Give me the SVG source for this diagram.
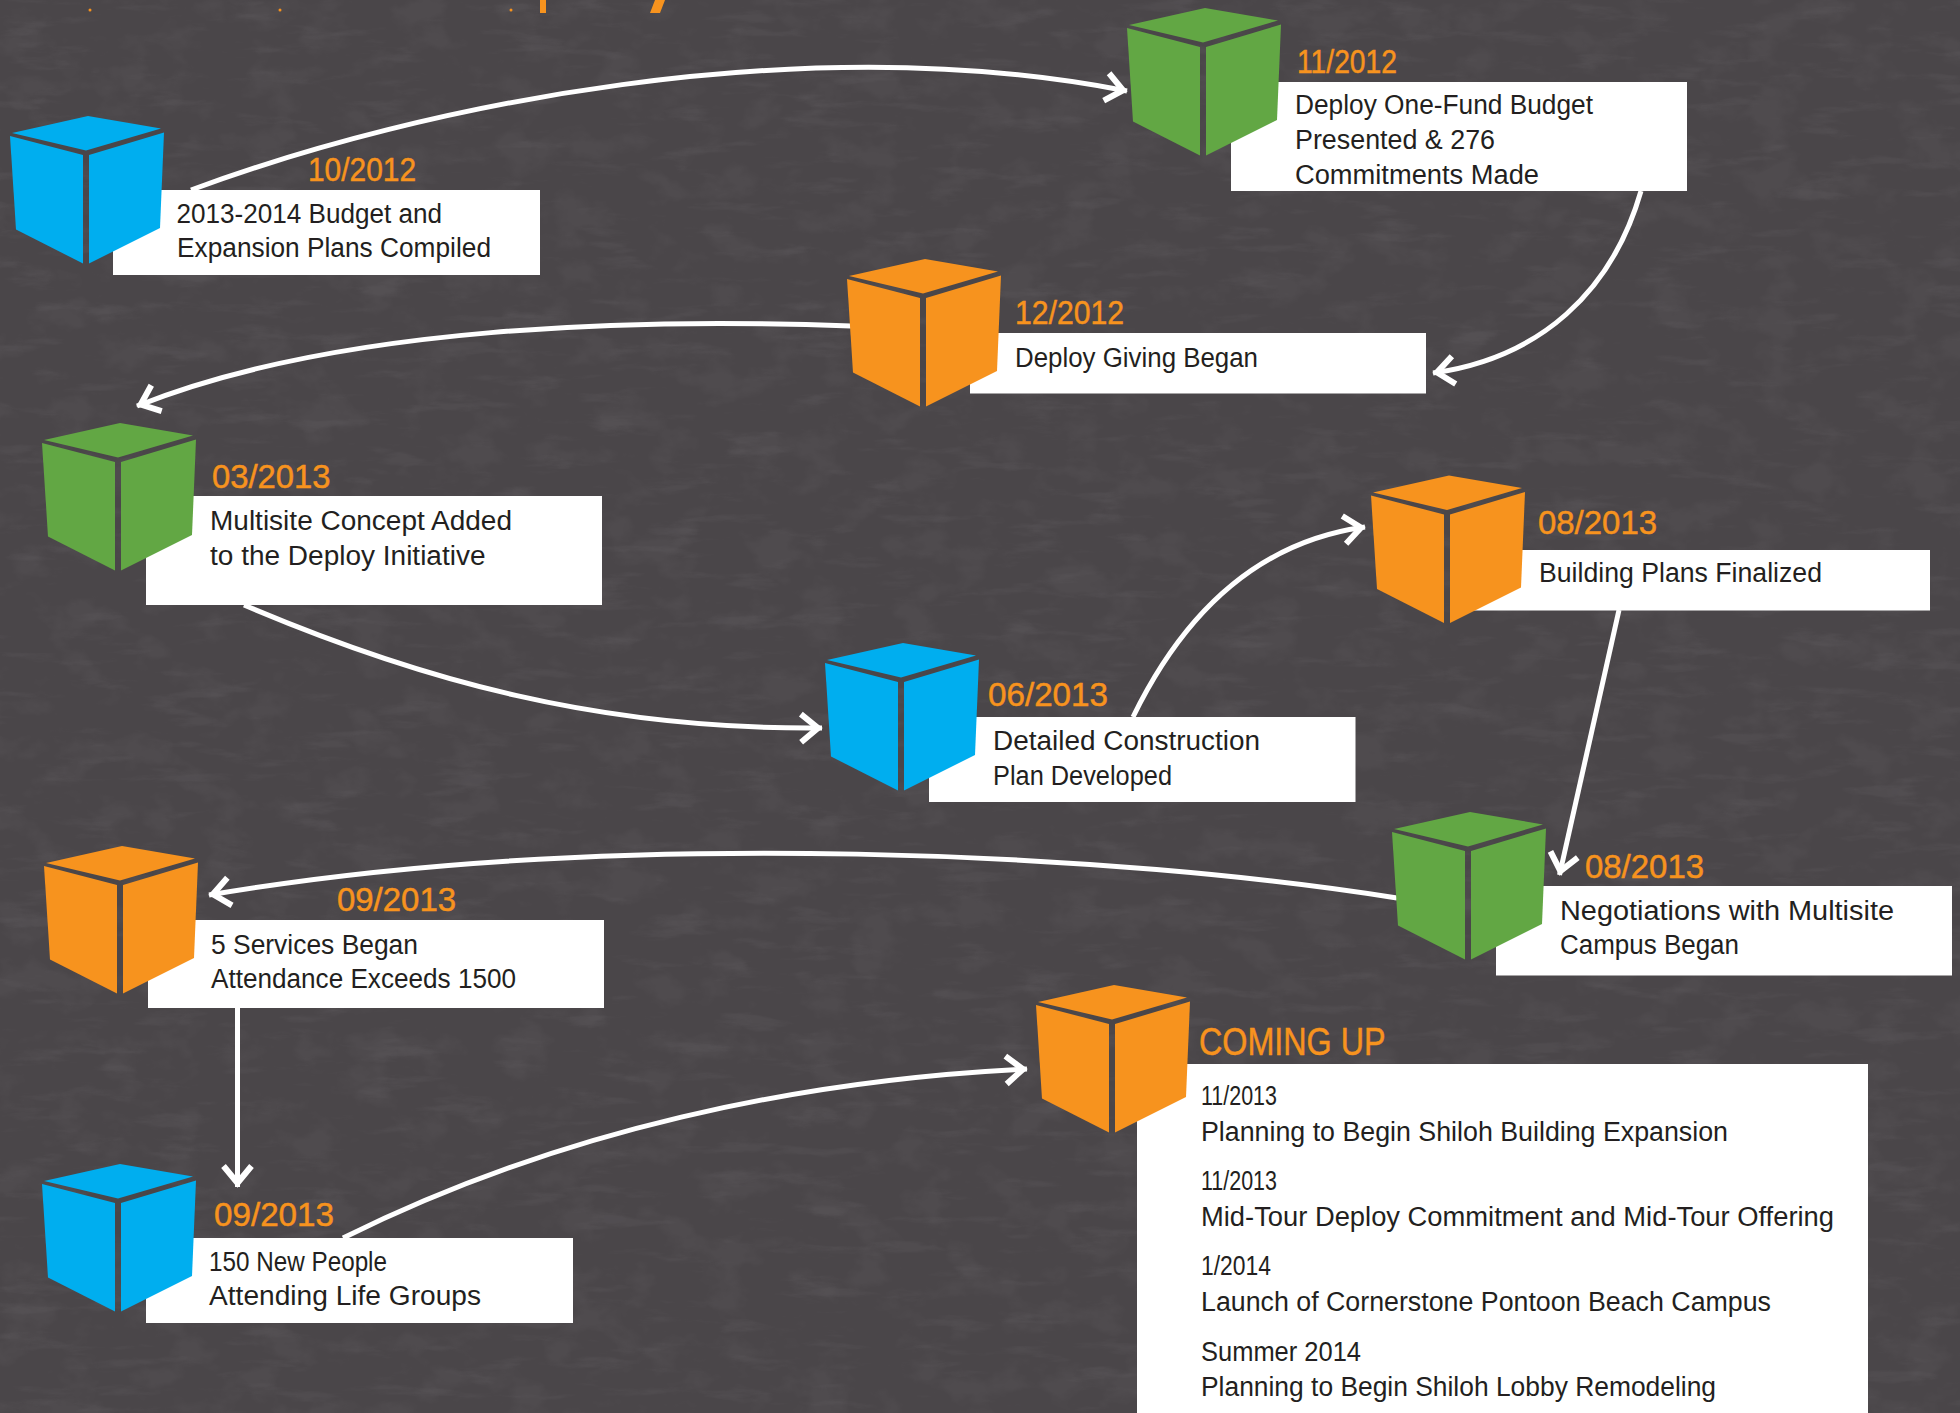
<svg xmlns="http://www.w3.org/2000/svg" width="1960" height="1413" viewBox="0 0 1960 1413">
<style>
.blue{fill:#00aeef}.green{fill:#62a744}.orange{fill:#f7931e}
.box{fill:#fff}
text{font-family:"Liberation Sans Narrow","Liberation Sans",Arial,sans-serif}
.d{fill:#f7931e;font-size:33px;stroke:#f7931e;stroke-width:.5px}
.t{fill:#231f20;font-size:27px}
.h{fill:#f7931e;font-size:38px;stroke:#f7931e;stroke-width:.5px}
.c{fill:none;stroke:#fff;stroke-width:5;marker-end:url(#chev)}
</style>
<defs>
<filter id="tex" x="0" y="0" width="100%" height="100%">
<feTurbulence type="fractalNoise" baseFrequency="0.014 0.07" numOctaves="5" seed="7"/>
<feColorMatrix type="matrix" values="0 0 0 0 0.14  0 0 0 0 0.13  0 0 0 0 0.14  5 0 0 0 -2.9"/>
</filter>
<filter id="tex2" x="0" y="0" width="100%" height="100%">
<feTurbulence type="fractalNoise" baseFrequency="0.02 0.03" numOctaves="4" seed="23"/>
<feColorMatrix type="matrix" values="0 0 0 0 0.45  0 0 0 0 0.43  0 0 0 0 0.45  4 0 0 0 -2"/>
</filter>
<marker id="chev" markerUnits="userSpaceOnUse" markerWidth="40" markerHeight="44" refX="34" refY="22" orient="auto" overflow="visible">
<path d="M13,8 L30,22 L13,36" fill="none" stroke="#fff" stroke-width="6"/>
</marker>
<g id="cube">
<polygon points="0,0 73,12.5 -2,34.5 -76,17"/>
<polygon points="-78,20 -5,39 -5,147.5 -72,113.5"/>
<polygon points="1,39 76,16.5 72,112 1,147.5"/>
</g>
</defs>
<rect width="1960" height="1413" fill="#4a4649"/>
<rect width="1960" height="1413" filter="url(#tex2)" opacity="0.05"/>
<rect width="1960" height="1413" filter="url(#tex)" opacity="0.2"/>
<g id="title-fragments" fill="#f7931e">
<rect x="540" y="0" width="6" height="13"/>
<polygon points="655,0 665,0 660,13 650,13"/>
<circle cx="90" cy="10" r="1.5"/><circle cx="280" cy="10" r="1.5"/><circle cx="511" cy="10" r="1.5"/>
</g>
<g id="connectors">
<path class="c" d="M191,190 C420,105 800,27 1127,91"/>
<path class="c" d="M1641,191 C1612,292 1540,358 1433,373"/>
<path class="c" d="M851,326 C640,318 340,325 137,406"/>
<path class="c" d="M244,605 C420,680 600,730 822,728"/>
<path class="c" d="M1133,717 C1190,600 1270,540 1365,527"/>
<path class="c" d="M1619,610 Q1590,740 1559.5,875"/>
<path class="c" d="M1397,898 C1130,855 620,825 209,895"/>
<path class="c" d="M237.5,1008 L237.5,1187"/>
<path class="c" d="M343,1238 C560,1130 800,1080 1027,1069"/>
</g>
<g id="n1">
<rect class="box" x="113" y="190" width="427" height="85"/>
<use href="#cube" x="88" y="116" class="blue"/>
<text class="d" x="308" y="181" textLength="108" lengthAdjust="spacingAndGlyphs">10/2012</text>
<text class="t" x="176.500" y="223" textLength="265.500" lengthAdjust="spacingAndGlyphs">2013-2014 Budget and</text>
<text class="t" x="177" y="257" textLength="314" lengthAdjust="spacingAndGlyphs">Expansion Plans Compiled</text>
</g>
<g id="n2">
<rect class="box" x="1231" y="82" width="456" height="109"/>
<use href="#cube" x="1205" y="8" class="green"/>
<text class="d" x="1297" y="73" textLength="100" lengthAdjust="spacingAndGlyphs">11/2012</text>
<text class="t" x="1295" y="114" textLength="298" lengthAdjust="spacingAndGlyphs">Deploy One-Fund Budget</text>
<text class="t" x="1295" y="149" textLength="200" lengthAdjust="spacingAndGlyphs">Presented &amp; 276</text>
<text class="t" x="1295" y="184" textLength="244" lengthAdjust="spacingAndGlyphs">Commitments Made</text>
</g>
<g id="n3">
<rect class="box" x="970" y="333" width="456" height="60.500"/>
<use href="#cube" x="925" y="259" class="orange"/>
<text class="d" x="1015" y="324" textLength="109" lengthAdjust="spacingAndGlyphs">12/2012</text>
<text class="t" x="1015" y="366.500" textLength="243" lengthAdjust="spacingAndGlyphs">Deploy Giving Began</text>
</g>
<g id="n4">
<rect class="box" x="146" y="496" width="456" height="109"/>
<use href="#cube" x="120" y="423" class="green"/>
<text class="d" x="212" y="488" textLength="118.500" lengthAdjust="spacingAndGlyphs">03/2013</text>
<text class="t" x="210" y="530" textLength="302" lengthAdjust="spacingAndGlyphs">Multisite Concept Added</text>
<text class="t" x="210" y="565" textLength="275.500" lengthAdjust="spacingAndGlyphs">to the Deploy Initiative</text>
</g>
<g id="n5">
<rect class="box" x="929" y="717" width="426.500" height="85"/>
<use href="#cube" x="903" y="643" class="blue"/>
<text class="d" x="988" y="705.500" textLength="120" lengthAdjust="spacingAndGlyphs">06/2013</text>
<text class="t" x="993" y="750" textLength="267" lengthAdjust="spacingAndGlyphs">Detailed Construction</text>
<text class="t" x="993" y="785" textLength="179" lengthAdjust="spacingAndGlyphs">Plan Developed</text>
</g>
<g id="n6">
<rect class="box" x="1474" y="550" width="456" height="60.500"/>
<use href="#cube" x="1449" y="475.500" class="orange"/>
<text class="d" x="1538" y="534" textLength="119" lengthAdjust="spacingAndGlyphs">08/2013</text>
<text class="t" x="1539" y="582" textLength="283" lengthAdjust="spacingAndGlyphs">Building Plans Finalized</text>
</g>
<g id="n7">
<rect class="box" x="1496" y="886" width="456" height="89.500"/>
<use href="#cube" x="1470" y="812" class="green"/>
<text class="d" x="1585" y="877.500" textLength="119" lengthAdjust="spacingAndGlyphs">08/2013</text>
<text class="t" x="1560" y="920" textLength="334" lengthAdjust="spacingAndGlyphs">Negotiations with Multisite</text>
<text class="t" x="1560" y="954" textLength="179" lengthAdjust="spacingAndGlyphs">Campus Began</text>
</g>
<g id="n8">
<rect class="box" x="148" y="920" width="456" height="88"/>
<use href="#cube" x="122" y="846" class="orange"/>
<text class="d" x="337" y="911" textLength="119" lengthAdjust="spacingAndGlyphs">09/2013</text>
<text class="t" x="211" y="954" textLength="207" lengthAdjust="spacingAndGlyphs">5 Services Began</text>
<text class="t" x="211" y="988" textLength="305" lengthAdjust="spacingAndGlyphs">Attendance Exceeds 1500</text>
</g>
<g id="n9">
<rect class="box" x="146" y="1238" width="427" height="85"/>
<use href="#cube" x="120" y="1164" class="blue"/>
<text class="d" x="214" y="1226" textLength="120" lengthAdjust="spacingAndGlyphs">09/2013</text>
<text class="t" x="209" y="1271" textLength="178" lengthAdjust="spacingAndGlyphs">150 New People</text>
<text class="t" x="209" y="1305" textLength="272" lengthAdjust="spacingAndGlyphs">Attending Life Groups</text>
</g>
<g id="n10">
<rect class="box" x="1137" y="1064" width="731" height="349"/>
<use href="#cube" x="1114" y="985" class="orange"/>
<text class="h" x="1199" y="1055" textLength="186.500" lengthAdjust="spacingAndGlyphs">COMING UP</text>
<text class="t" x="1201" y="1105" textLength="76" lengthAdjust="spacingAndGlyphs">11/2013</text>
<text class="t" x="1201" y="1141" textLength="527" lengthAdjust="spacingAndGlyphs">Planning to Begin Shiloh Building Expansion</text>
<text class="t" x="1201" y="1190" textLength="76" lengthAdjust="spacingAndGlyphs">11/2013</text>
<text class="t" x="1201" y="1226" textLength="633" lengthAdjust="spacingAndGlyphs">Mid-Tour Deploy Commitment and Mid-Tour Offering</text>
<text class="t" x="1201" y="1275" textLength="70" lengthAdjust="spacingAndGlyphs">1/2014</text>
<text class="t" x="1201" y="1311" textLength="570" lengthAdjust="spacingAndGlyphs">Launch of Cornerstone Pontoon Beach Campus</text>
<text class="t" x="1201" y="1361" textLength="160" lengthAdjust="spacingAndGlyphs">Summer 2014</text>
<text class="t" x="1201" y="1396" textLength="515" lengthAdjust="spacingAndGlyphs">Planning to Begin Shiloh Lobby Remodeling</text>
</g>
</svg>
